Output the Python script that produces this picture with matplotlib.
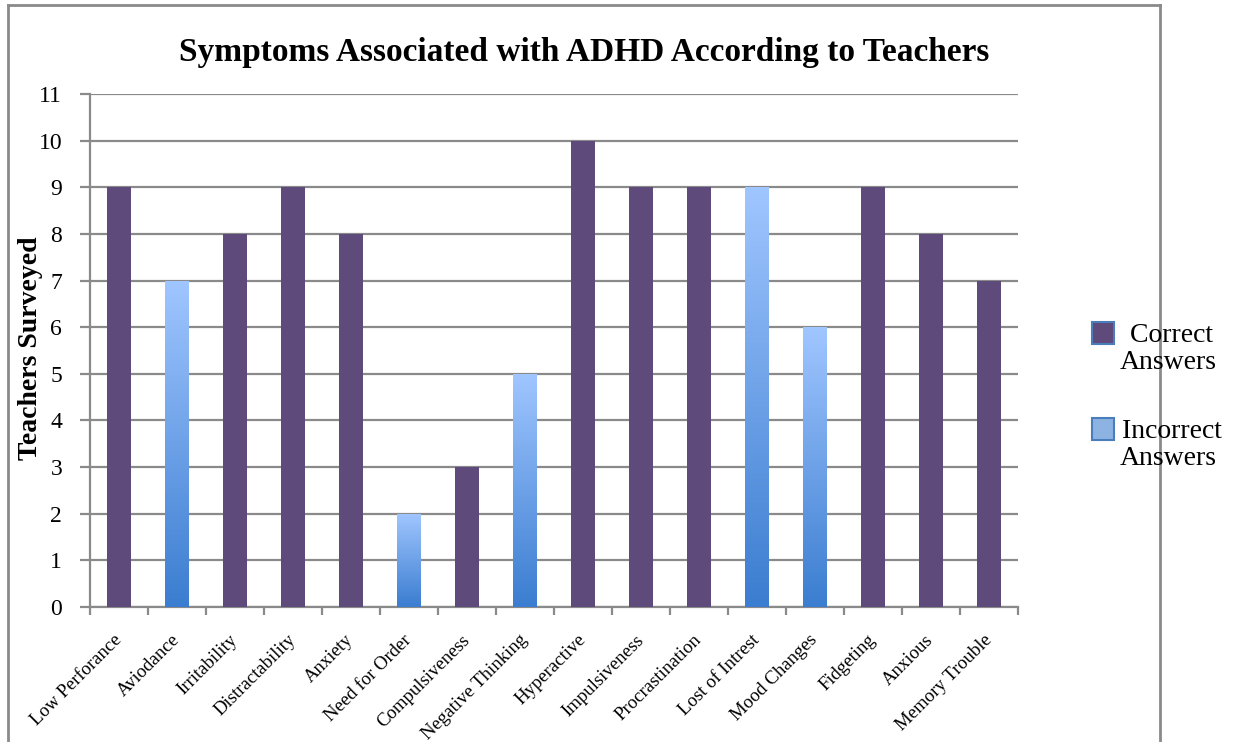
import numpy as np
import matplotlib
matplotlib.use("Agg")
import matplotlib.pyplot as plt
from matplotlib.patches import Rectangle
from matplotlib.lines import Line2D

symptoms = ["Low Perforance", "Aviodance", "Irritability", "Distractability", "Anxiety",
            "Need for Order", "Compulsiveness", "Negative Thinking", "Hyperactive",
            "Impulsiveness", "Procrastination", "Lost of Intrest", "Mood Changes",
            "Fidgeting", "Anxious", "Memory Trouble"]
teachers = [9, 7, 8, 9, 8, 2, 3, 5, 10, 9, 9, 9, 6, 9, 8, 7]
correct = [True, False, True, True, True, False, True, False, True, True, True, False,
           False, True, True, True]
yticks = list(range(0, 12))

purple = "#5E4A7B"
font = "Liberation Serif"
plt.rcParams["font.family"] = [font, "DejaVu Serif"]

fig = plt.figure(figsize=(12.43, 7.42), dpi=100)
W, H = 1243, 742
ax = fig.add_axes([90 / W, 1 - 607 / H, (1018 - 90) / W, (607 - 94) / H])

x = np.arange(len(symptoms))
grad = np.linspace(1, 0, 256).reshape(-1, 1)
cmap = matplotlib.colors.LinearSegmentedColormap.from_list("b", ["#3B7DD0", "#A0C6FF"])
for xi, v, ok in zip(x, teachers, correct):
    if ok:
        ax.bar(xi, v, width=0.4, color=purple, zorder=3)
    else:
        b = ax.bar(xi, v, width=0.4, color="none", zorder=3)[0]
        im = ax.imshow(grad, cmap=cmap, aspect="auto", zorder=3,
                       extent=[xi - 0.2, xi + 0.2, 0, v], origin="upper")
        im.set_clip_path(b)

ax.set_xlim(-0.5, len(symptoms) - 0.5)
ax.set_ylim(0, 11)
ax.set_yticks(yticks)
ax.set_yticklabels([str(t) for t in yticks], fontsize=17)
ax.yaxis.grid(True, color="#8a8a8a", linewidth=1.6, zorder=0)
ax.set_axisbelow(True)
ax.set_xticks(x)
ax.set_xticklabels(symptoms, rotation=45, ha="right", va="center",
                   rotation_mode="anchor", fontsize=13.5)
ax.set_xticks(np.arange(-0.5, len(symptoms)), minor=True)
ax.tick_params(axis="x", which="major", length=0, pad=22)
ax.tick_params(axis="x", which="minor", length=6, width=1.6, color="#8a8a8a")
ax.tick_params(axis="y", length=7, width=1.6, color="#8a8a8a", pad=13)
for s in ["top", "right"]:
    ax.spines[s].set_visible(False)
for s in ["left", "bottom"]:
    ax.spines[s].set_color("#8a8a8a")
    ax.spines[s].set_linewidth(1.6)
ax.set_ylabel("Teachers Surveyed", fontsize=20, fontweight="bold")
ax.yaxis.set_label_coords(43 / W, 1 - 348 / H, transform=fig.transFigure)

fig.text(584 / W, 1 - 53 / H, "Symptoms Associated with ADHD According to Teachers",
         ha="center", va="center", fontsize=24, fontweight="bold")

# legend
for yc, fc, label in [(333, purple, " Correct\nAnswers"), (429, "#8DB3E2", " Incorrect\nAnswers")]:
    fig.patches.append(Rectangle((1092 / W, 1 - (yc + 11) / H), 22 / W, 22 / H,
                                 transform=fig.transFigure, facecolor=fc,
                                 edgecolor="#4A7EBB", linewidth=1.5))
    fig.text(1168 / W, 1 - (yc + 16) / H, label, ha="center", va="center",
             fontsize=20, linespacing=1.08)

# chart border
bc = "#8a8a8a"
fig.lines.append(Line2D([8 / W, 8 / W], [0, 1 - 5 / H], transform=fig.transFigure, color=bc, lw=2))
fig.lines.append(Line2D([1160 / W, 1160 / W], [0, 1 - 5 / H], transform=fig.transFigure, color=bc, lw=2))
fig.lines.append(Line2D([8 / W, 1160 / W], [1 - 5 / H, 1 - 5 / H], transform=fig.transFigure, color=bc, lw=2))

fig.savefig("out.png", dpi=100)
